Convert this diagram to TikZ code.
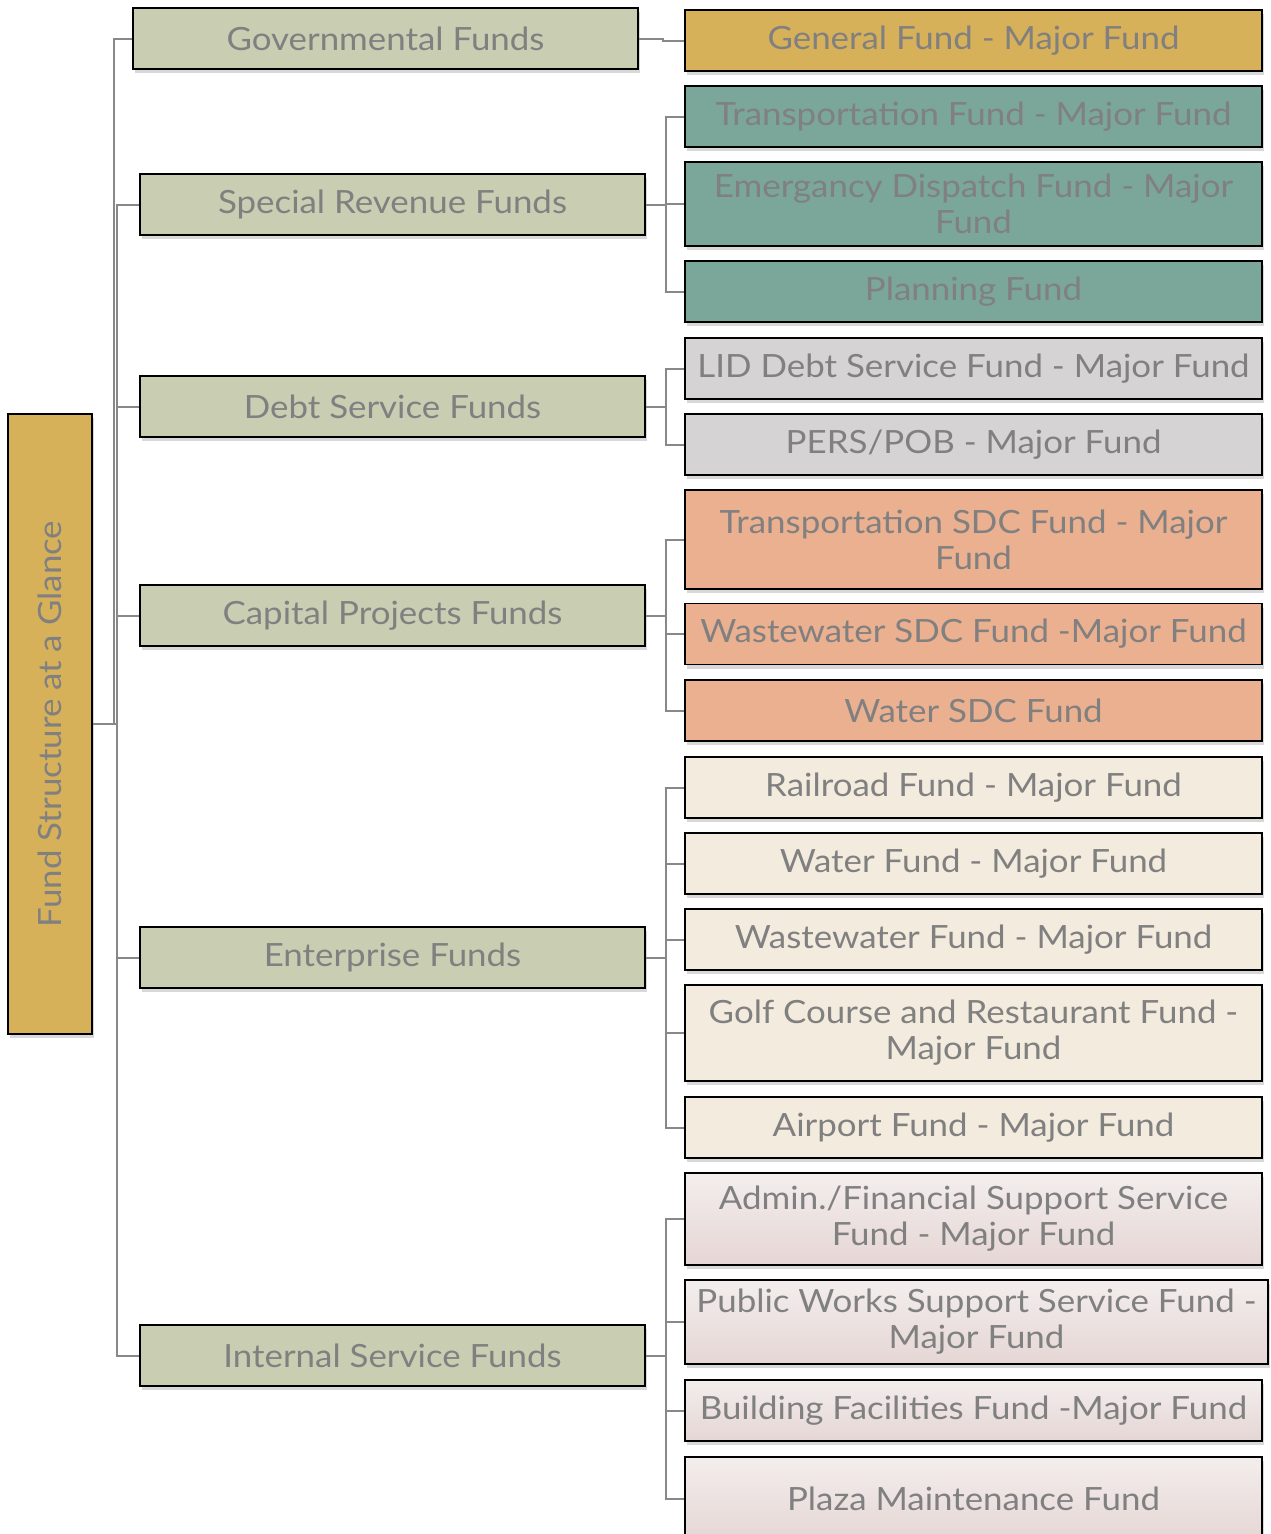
\documentclass[tikz,border=0pt]{standalone}
\usepackage{fontspec}
\setmainfont[FakeStretch=1.09]{Lato}
\usetikzlibrary{shadows}
\definecolor{txtgray}{RGB}{128,128,128}
\definecolor{linkgray}{RGB}{136,136,136}
\definecolor{catgreen}{RGB}{201,205,178}
\definecolor{gold}{RGB}{215,176,90}
\definecolor{teal}{RGB}{123,166,154}
\definecolor{lgray}{RGB}{213,211,211}
\definecolor{salmon}{RGB}{234,176,144}
\definecolor{cream}{RGB}{243,235,221}
\definecolor{pinktop}{RGB}{243,238,237}
\definecolor{pinkbot}{RGB}{229,214,212}

\begin{document}
\begin{tikzpicture}[x=1pt,y=-1pt,
     box/.style={draw=black,line width=1.5pt,text=txtgray,align=center,inner sep=2pt,
       font=\fontsize{32}{36}\selectfont,
       drop shadow={shadow xshift=1.5pt,shadow yshift=-4pt,opacity=0.3}},
     cat/.style={box,fill=catgreen,minimum width=505pt,minimum height=61pt},
     fund/.style={box,minimum width=577pt,minimum height=61pt},
     isfund/.style={fund,top color=pinktop,bottom color=pinkbot},
     link/.style={draw=linkgray,line width=2pt}]
    \useasboundingbox (0,0) rectangle (1271,1534);
    \fill[white] (0,0) rectangle (1271,1534);
    % root
    \node[box,fill=gold,rotate=90,minimum width=620pt,minimum height=84pt] (root) at (50,724)
      {Fund Structure at a Glance};
    % fund types
    \node[cat] (gov)  at (385.5,38.5) {Governmental Funds};
    \node[cat] (spec) at (392.5,204.5) {Special Revenue Funds};
    \node[cat] (debt) at (392.5,406.5) {Debt Service Funds};
    \node[cat] (cap)  at (392.5,615.5) {Capital Projects Funds};
    \node[cat] (ent)  at (392.5,957.5) {Enterprise Funds};
    \node[cat] (isf)  at (392.5,1355.5) {Internal Service Funds};
    % funds
    \node[fund,fill=gold]  (genf)  at (973.5,40.5)  {General Fund - Major Fund};
    \node[fund,fill=teal]  (trans) at (973.5,116.5) {Transportation Fund - Major Fund};
    \node[fund,fill=teal,minimum height=84pt] (emerg) at (973.5,204) {Emergancy Dispatch Fund - Major\\ Fund};
    \node[fund,fill=teal]  (plan)  at (973.5,291.5) {Planning Fund};
    \node[fund,fill=lgray] (lid)   at (973.5,368.5) {LID Debt Service Fund - Major Fund};
    \node[fund,fill=lgray] (pers)  at (973.5,444.5) {PERS/POB - Major Fund};
    \node[fund,fill=salmon,minimum height=99pt] (tsdc) at (973.5,539.5) {Transportation SDC Fund - Major\\ Fund};
    \node[fund,fill=salmon] (wwsdc) at (973.5,634) {Wastewater SDC Fund -Major Fund};
    \node[fund,fill=salmon] (wsdc)  at (973.5,710.5) {Water SDC Fund};
    \node[fund,fill=cream] (rail)  at (973.5,787.5) {Railroad Fund - Major Fund};
    \node[fund,fill=cream] (water) at (973.5,863.5) {Water Fund - Major Fund};
    \node[fund,fill=cream] (ww)    at (973.5,939.5) {Wastewater Fund - Major Fund};
    \node[fund,fill=cream,minimum height=96pt] (golf) at (973.5,1033) {Golf Course and Restaurant Fund -\\ Major Fund};
    \node[fund,fill=cream] (airp)  at (973.5,1127.5) {Airport Fund - Major Fund};
    \node[isfund,minimum height=92pt] (admin) at (973.5,1219) {Admin./Financial Support Service\\ Fund - Major Fund};
    \node[isfund,minimum width=583pt,minimum height=84pt] (pubw) at (976.5,1322) {Public Works Support Service Fund -\\ Major Fund};
    \node[isfund] (bldg)  at (973.5,1410.5) {Building Facilities Fund -Major Fund};
    \node[isfund,minimum height=84pt] (plaza) at (973.5,1499) {Plaza Maintenance Fund};
    % connectors
    \draw[link] (root.south) -- ++(21,0) |- (gov.west);
    \foreach \c in {spec,debt,cap,ent,isf}
      \draw[link] (root.south) -- ++(24,0) |- (\c.west);
    \draw[link] (gov.east) -- ++(24,0) |- (genf.west);
    \foreach \c in {trans,emerg,plan}
      \draw[link] (spec.east) -- ++(20,0) |- (\c.west);
    \foreach \c in {lid,pers}
      \draw[link] (debt.east) -- ++(20,0) |- (\c.west);
    \foreach \c in {tsdc,wwsdc,wsdc}
      \draw[link] (cap.east) -- ++(20,0) |- (\c.west);
    \foreach \c in {rail,water,ww,golf,airp}
      \draw[link] (ent.east) -- ++(20,0) |- (\c.west);
    \foreach \c in {admin,pubw,bldg,plaza}
      \draw[link] (isf.east) -- ++(20,0) |- (\c.west);
  \end{tikzpicture}
\end{document}
